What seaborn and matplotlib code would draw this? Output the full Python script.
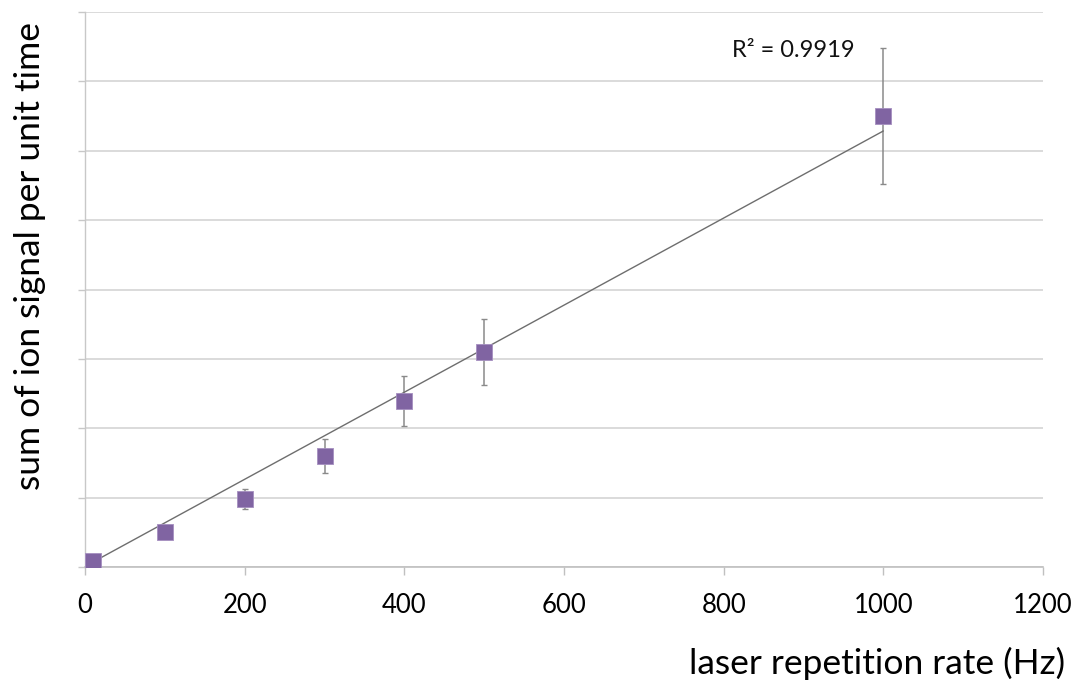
import numpy as np
import pandas as pd
import matplotlib
matplotlib.use("Agg")
import matplotlib.pyplot as plt
import seaborn as sns

# Measured ion signal vs. laser repetition rate
rep_rate_hz = [10, 100, 200, 300, 400, 500, 1000]
ion_signal = [0.086, 0.505, 0.98, 1.60, 2.39, 3.10, 6.50]
signal_err = [0.02, 0.05, 0.15, 0.25, 0.36, 0.47, 0.98]

# Linear trendline (as reported with the fit)
trend_slope = 0.006276
trend_intercept = 0.009
trend_range = [10, 1000]
r_squared = 0.9919

x_ticks = [0, 200, 400, 600, 800, 1000, 1200]
y_grid = [0, 1, 2, 3, 4, 5, 6, 7, 8]

sns.set_theme(style="white")
plt.rcParams["font.family"] = ["Lato", "DejaVu Sans"]

fig = plt.figure(figsize=(10.75, 6.84), dpi=100)
ax = fig.add_axes([85 / 1075, 1 - 567 / 684, (1043 - 85) / 1075, (567 - 12) / 684])

df = pd.DataFrame({"rate": rep_rate_hz, "signal": ion_signal, "err": signal_err})

# error bars
ax.errorbar(df["rate"], df["signal"], yerr=df["err"], fmt="none",
            ecolor="#8a8a8a", elinewidth=1.1, capsize=2.5, capthick=1.0, zorder=3)

# trendline
tx = np.array(trend_range, dtype=float)
trend = pd.DataFrame({"rate": tx, "fit": trend_slope * tx + trend_intercept})
sns.lineplot(data=trend, x="rate", y="fit", ax=ax, color="#6e6e6e",
             linewidth=1.0, zorder=4)

# data points
sns.scatterplot(data=df, x="rate", y="signal", ax=ax, marker="s", s=130,
                color="#8064A2", edgecolor="#a58fc0", linewidth=0.6, zorder=5)

ax.text(810, 7.45, f"R² = {r_squared}", fontsize=17, color="#111111",
        ha="left", va="center")

ax.set_xlim(x_ticks[0], x_ticks[-1])
ax.set_ylim(y_grid[0], y_grid[-1])
ax.set_xticks(x_ticks)
ax.set_xticklabels([str(t) for t in x_ticks], fontsize=18.5, color="#000000")
ax.set_yticks(y_grid)
ax.set_yticklabels([])
ax.yaxis.grid(True, color="#d4d4d4", linewidth=1.2)
ax.xaxis.grid(False)
ax.set_axisbelow(True)

for side in ["top", "right"]:
    ax.spines[side].set_visible(False)
ax.spines["left"].set_color("#c8c8c8")
ax.spines["bottom"].set_color("#c0c0c0")
ax.spines["left"].set_linewidth(1.0)
ax.spines["bottom"].set_linewidth(1.2)

ax.tick_params(axis="x", which="major", direction="out", length=6, width=1.0,
               color="#c0c0c0", pad=13, bottom=True)
ax.tick_params(axis="y", which="major", direction="out", length=5, width=1.0,
               color="#c8c8c8", left=True)
ax.set_xlabel("")
ax.set_ylabel("")

fig.text(1065 / 1075, 1 - 663 / 684, "laser repetition rate (Hz)", fontsize=25.5,
         ha="right", va="center", color="#000000")
fig.text(30 / 1075, 1 - 256 / 684, "sum of ion signal per unit time", fontsize=25.5,
         ha="center", va="center", rotation=90, color="#000000")

fig.savefig("out.png", dpi=100, facecolor="white")
